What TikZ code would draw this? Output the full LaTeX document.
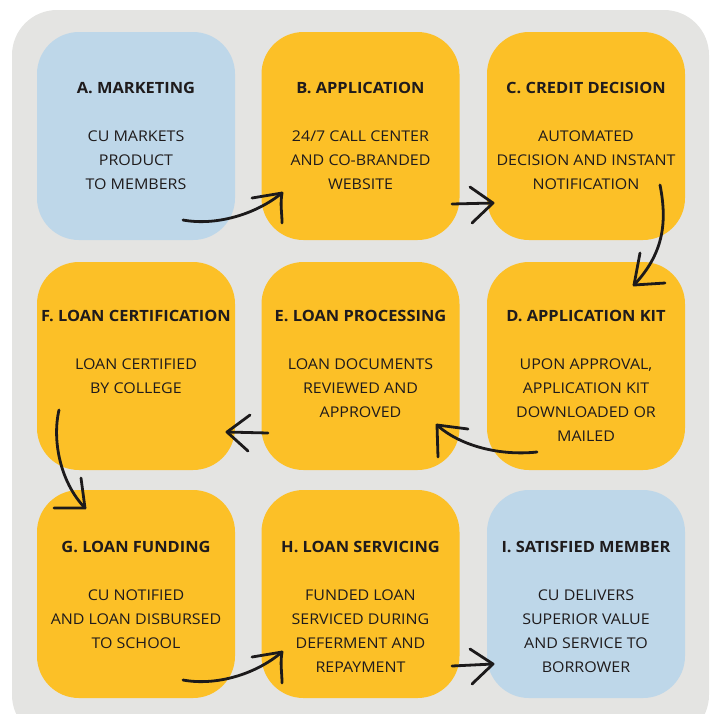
\documentclass[tikz,border=0pt]{standalone}
\usepackage{fontspec}
\setmainfont{Open Sans}[FakeStretch=1.08, BoldFeatures={FakeStretch=1.06}]
\definecolor{panel}{HTML}{E4E4E2}
\definecolor{stepyellow}{HTML}{FCC027}
\definecolor{stepblue}{HTML}{BED7E9}
\definecolor{ink}{HTML}{1F1B1C}
\definecolor{pen}{HTML}{1C1A1B}
\tikzset{
  card/.style={draw=none, rounded corners=42pt, minimum width=198pt,
    minimum height=208pt, inner sep=0pt},
  yellowcard/.style={card, fill=stepyellow},
  bluecard/.style={card, fill=stepblue},
  title/.style={inner sep=0pt, text=ink, font=\fontsize{15.5}{18}\selectfont\bfseries},
  body/.style={inner sep=0pt, anchor=north, align=center, text=ink,
    font=\fontsize{14.8}{24}\selectfont},
  penline/.style={draw=pen, line width=2.8pt, line cap=round, line join=round},
}
\begin{document}
\begin{tikzpicture}[x=1pt, y=-1pt]
\useasboundingbox (0,0) rectangle (714,713);
\clip (0,0) rectangle (714,713);
% grey backing panel, running off the lower edge
\fill[panel, rounded corners=45pt] (12,10) rectangle (709,740);

% row 1
\node[bluecard]   (A) at (136,136) {};
\node[yellowcard] (B) at (360.5,136) {};
\node[yellowcard] (C) at (586,136) {};
% row 2
\node[yellowcard] (F) at (136,366) {};
\node[yellowcard] (E) at (360.5,366) {};
\node[yellowcard] (D) at (586,366) {};
% row 3
\node[yellowcard] (G) at (136,594) {};
\node[yellowcard] (H) at (360.5,594) {};
\node[bluecard]   (I) at (586,594) {};

% headings and descriptions
\node[title] (At) at (136,88) {A. MARKETING};
\node[body]  (Ab) at (136,130.6) {CU MARKETS\\PRODUCT\\TO MEMBERS};
\node[title] (Bt) at (360.5,88) {B. APPLICATION};
\node[body]  (Bb) at (360.5,130.6) {24/7 CALL CENTER\\AND CO-BRANDED\\WEBSITE};
\node[title] (Ct) at (586,88) {C. CREDIT DECISION};
\node[body]  (Cb) at (586,130.6) {AUTOMATED\\DECISION AND INSTANT\\NOTIFICATION};

\node[title] (Ft) at (136,316) {F. LOAN CERTIFICATION};
\node[body]  (Fb) at (136,358.6) {LOAN CERTIFIED\\BY COLLEGE};
\node[title] (Et) at (360.5,316) {E. LOAN PROCESSING};
\node[body]  (Eb) at (360.5,358.6) {LOAN DOCUMENTS\\REVIEWED AND\\APPROVED};
\node[title] (Dt) at (586,316) {D. APPLICATION KIT};
\node[body]  (Db) at (586,358.6) {UPON APPROVAL,\\APPLICATION KIT\\DOWNLOADED OR\\MAILED};

\node[title] (Gt) at (136,547) {G. LOAN FUNDING};
\node[body]  (Gb) at (136,589.6) {CU NOTIFIED\\AND LOAN DISBURSED\\TO SCHOOL};
\node[title] (Ht) at (360.5,547) {H. LOAN SERVICING};
\node[body]  (Hb) at (360.5,589.6) {FUNDED LOAN\\SERVICED DURING\\DEFERMENT AND\\REPAYMENT};
\node[title] (It) at (586,547) {I. SATISFIED MEMBER};
\node[body]  (Ib) at (586,589.6) {CU DELIVERS\\SUPERIOR VALUE\\AND SERVICE TO\\BORROWER};

% pen-stroke connectors: tail, tip and the two barbs of each head
\coordinate (ab0) at (183,220); \coordinate (ab1) at (282,193);
\coordinate (abL) at (252,198); \coordinate (abR) at (282,223);
\coordinate (bc0) at (452,204); \coordinate (bc1) at (493,203);
\coordinate (bcL) at (470,187); \coordinate (bcR) at (472,223);
\coordinate (cd0) at (660,185); \coordinate (cd1) at (634,285);
\coordinate (cdL) at (640,253); \coordinate (cdR) at (665,283);
\coordinate (de0) at (537,452); \coordinate (de1) at (437,425);
\coordinate (deL) at (468,429); \coordinate (deR) at (438,457);
\coordinate (ef0) at (268,433); \coordinate (ef1) at (227,432);
\coordinate (efL) at (250,415); \coordinate (efR) at (248,451);
\coordinate (fg0) at (59,410);  \coordinate (fg1) at (85,508);
\coordinate (fgL) at (81,478);  \coordinate (fgR) at (54,508);
\coordinate (gh0) at (183,680); \coordinate (gh1) at (282,652);
\coordinate (ghL) at (252,657); \coordinate (ghR) at (282,683);
\coordinate (hi0) at (452,666); \coordinate (hi1) at (493,664);
\coordinate (hiL) at (470,649); \coordinate (hiR) at (472,684);

% A -> B
\draw[penline] (ab0) .. controls (215,226) and (255,215) .. (ab1);
\draw[penline] (abL) -- (ab1) .. controls (280,205) and (282,212) .. (abR);
% B -> C
\draw[penline] (bc0) -- (bc1);
\draw[penline] (bcL) -- (bc1) -- (bcR);
% C -> D
\draw[penline] (cd0) .. controls (668,225) and (662,255) .. (cd1);
\draw[penline] (cdL) -- (cd1) -- (cdR);
% D -> E
\draw[penline] (de0) .. controls (500,456) and (460,446) .. (de1);
\draw[penline] (deL) -- (de1) -- (deR);
% E -> F
\draw[penline] (ef0) -- (ef1);
\draw[penline] (efL) -- (ef1) -- (efR);
% F -> G
\draw[penline] (fg0) .. controls (52,440) and (60,482) .. (fg1);
\draw[penline] (fgL) -- (fg1) -- (fgR);
% G -> H
\draw[penline] (gh0) .. controls (215,686) and (255,675) .. (gh1);
\draw[penline] (ghL) -- (gh1) .. controls (280,664) and (282,672) .. (ghR);
% H -> I
\draw[penline] (hi0) -- (hi1);
\draw[penline] (hiL) -- (hi1) -- (hiR);
\end{tikzpicture}
\end{document}
